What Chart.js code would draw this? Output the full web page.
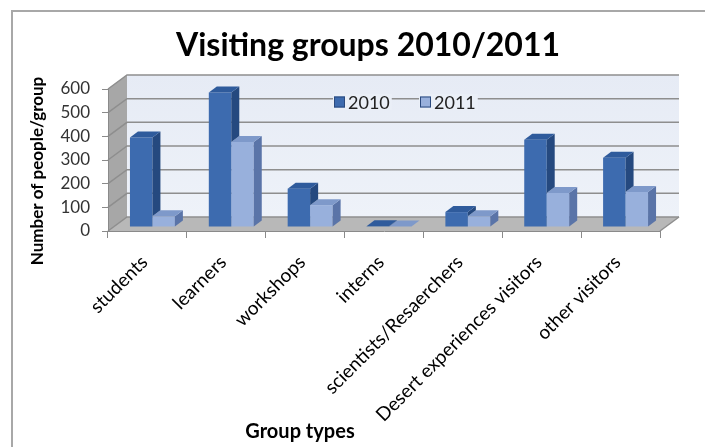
<!DOCTYPE html>
<html lang="en">
<head>
<meta charset="UTF-8">
<title>Visiting groups 2010/2011</title>
<style>
    body { margin: 0; background: #fff; }
    #wrap { width: 705px; height: 447px; }
</style>
</head>
<body>
<div id="wrap"><canvas id="groupsChart" width="705" height="447"></canvas></div>

<script src="https://cdn.jsdelivr.net/npm/chart.js"></script>
<script>
    // values
    const categories = ['students', 'learners', 'workshops', 'interns',
        'scientists/Resaerchers', 'Desert experiences visitors', 'other visitors'];
    const visits2010 = [378, 568, 162, 3, 63, 369, 293];
    const visits2011 = [45, 359, 92, 2, 45, 144, 148];
    const yTickValues = [0, 100, 200, 300, 400, 500, 600];

    const FONT = 'Lato, "Open Sans", sans-serif';
    const WALL_DX = 19, WALL_DY = -14;      // depth of the walls
    const BAR_DX = 8, BAR_DY = -6;          // depth of a column
    const BAR_SHIFT_X = 5, BAR_SHIFT_Y = -4; // columns stand a little behind the front edge

    const faces = [
        { front: '#3d6baf', top: '#2f5b9c', side: '#25497f' },
        { front: '#98b0dc', top: '#7e99ca', side: '#5a74a8' }
    ];

    function poly(ctx, pts) {
        ctx.beginPath();
        ctx.moveTo(pts[0][0], pts[0][1]);
        for (let i = 1; i < pts.length; i++) ctx.lineTo(pts[i][0], pts[i][1]);
        ctx.closePath();
        ctx.fill();
    }

    // walls, floor and gridlines of the 3d box
    const boxPlugin = {
        id: 'box3d',
        beforeDraw(chart) {
            const ctx = chart.ctx;
            const { left, right, top, bottom } = chart.chartArea;
            const yScale = chart.scales.y;
            ctx.save();

            ctx.strokeStyle = '#a8a8a8';
            ctx.lineWidth = 2;
            ctx.beginPath();
            ctx.moveTo(12, 447);
            ctx.lineTo(12, 11);
            ctx.lineTo(705, 11);
            ctx.stroke();

            const grad = ctx.createLinearGradient(0, top + WALL_DY, 0, bottom + WALL_DY);
            grad.addColorStop(0, '#e6ebf5');
            grad.addColorStop(1, '#eef2f9');
            ctx.fillStyle = grad;
            ctx.fillRect(left + WALL_DX, top + WALL_DY, right - left, bottom - top);

            ctx.fillStyle = '#a7a7a7';
            poly(ctx, [[left, bottom], [left, top], [left + WALL_DX, top + WALL_DY], [left + WALL_DX, bottom + WALL_DY]]);

            ctx.fillStyle = '#b8b8b8';
            poly(ctx, [[left, bottom], [right, bottom], [right + WALL_DX, bottom + WALL_DY], [left + WALL_DX, bottom + WALL_DY]]);

            ctx.strokeStyle = '#8e8e8e';
            ctx.lineWidth = 1.5;
            yTickValues.forEach(v => {
                const py = yScale.getPixelForValue(v);
                ctx.beginPath();
                ctx.moveTo(left, py);
                ctx.lineTo(left + WALL_DX, py + WALL_DY);
                ctx.lineTo(right + WALL_DX, py + WALL_DY);
                ctx.stroke();
            });
            ctx.beginPath();
            ctx.moveTo(right, bottom);
            ctx.lineTo(right + WALL_DX, bottom + WALL_DY);
            ctx.stroke();
            ctx.restore();
        },
        beforeDatasetDraw(chart) {
            chart.ctx.save();
            chart.ctx.translate(BAR_SHIFT_X, BAR_SHIFT_Y);
        },
        afterDatasetDraw(chart, args) {
            const ctx = chart.ctx;
            const c = faces[args.index];
            const next = chart.getDatasetMeta(args.index + 1);
            args.meta.data.forEach((bar, i) => {
                const { x, y, base, width } = bar.getProps(['x', 'y', 'base', 'width'], true);
                const l = x - width / 2, r = x + width / 2;
                // side face stops where the neighbour column hides it
                let sideBottom = base;
                if (next && next.data[i]) {
                    const ny = next.data[i].getProps(['y'], true).y;
                    sideBottom = Math.max(y, Math.min(base, ny));
                }
                ctx.fillStyle = c.side;
                poly(ctx, [[r, y], [r, sideBottom], [r + BAR_DX, sideBottom + BAR_DY], [r + BAR_DX, y + BAR_DY]]);
                ctx.fillStyle = c.top;
                poly(ctx, [[l, y], [r, y], [r + BAR_DX, y + BAR_DY], [l + BAR_DX, y + BAR_DY]]);
            });
            ctx.restore();
        },
        afterDraw(chart) {
            const ctx = chart.ctx;
            ctx.save();
            ctx.textBaseline = 'middle';

            // title
            ctx.fillStyle = '#000';
            ctx.textAlign = 'center';
            ctx.font = 'bold 32px ' + FONT;
            ctx.fillText('Visiting groups 2010/2011', 368, 46);

            // legend inside the plot
            ctx.font = '18px ' + FONT;
            const legendX = [334, 420];
            chart.data.datasets.forEach((ds, i) => {
                const lx = legendX[i], ly = 102;
                const tw = ctx.measureText(ds.label).width;
                ctx.fillStyle = '#eaeff7';
                ctx.fillRect(lx - 1, ly - 8, tw + 17, 16);
                ctx.fillStyle = ds.backgroundColor;
                ctx.fillRect(lx, ly - 5.5, 11, 11);
                ctx.strokeStyle = '#2b4a7e';
                ctx.lineWidth = 1;
                ctx.strokeRect(lx + 0.5, ly - 5, 10, 10);
                ctx.fillStyle = '#222';
                ctx.textAlign = 'left';
                ctx.fillText(ds.label, lx + 14, ly + 1);
            });

            // axis titles
            ctx.fillStyle = '#000';
            ctx.textAlign = 'center';
            ctx.font = 'bold 20px ' + FONT;
            ctx.fillText('Group types', 300, 432);
            ctx.translate(38, 171);
            ctx.rotate(-Math.PI / 2);
            ctx.font = 'bold 17px ' + FONT;
            ctx.fillText('Number of people/group', 0, 0);
            ctx.restore();
        }
    };

    Chart.defaults.font.family = FONT;

    new Chart(document.getElementById('groupsChart'), {
        type: 'bar',
        data: {
            labels: categories,
            datasets: [
                { label: '2010', data: visits2010, backgroundColor: faces[0].front },
                { label: '2011', data: visits2011, backgroundColor: faces[1].front }
            ]
        },
        options: {
            responsive: false,
            animation: false,
            devicePixelRatio: 1,
            layout: { padding: { left: 0, right: 45, top: 89, bottom: 0 } },
            datasets: { bar: { barPercentage: 1, categoryPercentage: 0.57, borderWidth: 0 } },
            plugins: {
                legend: { display: false },
                tooltip: { enabled: false },
                title: { display: false }
            },
            scales: {
                x: {
                    afterFit(scale) { scale.height = 216; },
                    grid: { drawOnChartArea: false, tickLength: 7, color: '#8a8a8a' },
                    border: { color: '#8a8a8a' },
                    ticks: { minRotation: 45, maxRotation: 45, color: '#000', font: { size: 19 }, padding: 13, labelOffset: -3 }
                },
                y: {
                    min: 0,
                    max: 600,
                    afterFit(scale) { scale.width = 108; },
                    afterBuildTicks(scale) { scale.ticks = yTickValues.map(v => ({ value: v })); },
                    grid: { drawOnChartArea: false, tickLength: 6, color: '#8a8a8a' },
                    border: { color: '#8a8a8a' },
                    ticks: { color: '#333', font: { size: 17 }, padding: 12 }
                }
            }
        },
        plugins: [boxPlugin]
    });
</script>
</body>
</html>
